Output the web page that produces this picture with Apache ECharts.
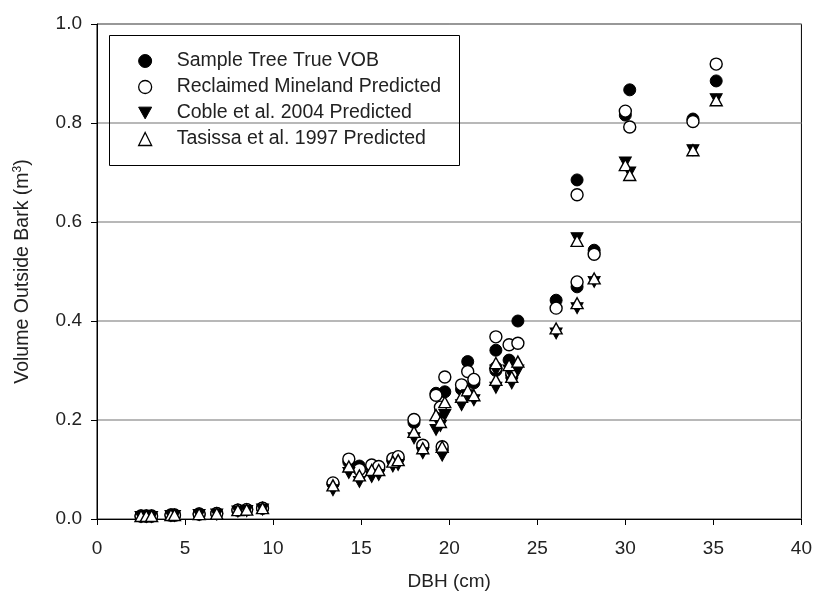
<!DOCTYPE html>
<html><head><meta charset="utf-8">
<script src="https://cdn.jsdelivr.net/npm/echarts@6/dist/echarts.min.js"></script>
<style>html,body{margin:0;padding:0;background:#fff}#c{width:815px;height:600px}</style>
</head><body><div id="c"></div>
<script>
const dbh = [2.5,2.8,3.1,4.2,4.4,5.8,6.8,8.0,8.5,9.4,
  13.4,14.3,14.9,15.6,16.0,16.8,17.1,18.0,18.5,19.25,19.5,19.6,19.75,
  20.7,21.05,21.4,22.65,22.65,23.4,23.55,23.9,26.07,27.26,27.26,28.23,30.0,30.25,33.84,35.16];
const trueVOB = [0.006,0.006,0.006,0.008,0.008,0.010,0.011,0.018,0.019,0.022,
  0.072,0.115,0.107,0.103,0.102,0.118,0.122,0.195,0.145,0.254,0.215,0.140,0.257,
  0.262,0.318,0.275,0.341,0.300,0.321,0.290,0.400,0.442,0.685,0.469,0.543,0.816,0.867,0.808,0.885];
const reclaimed = [0.006,0.006,0.006,0.008,0.008,0.010,0.011,0.018,0.019,0.022,
  0.073,0.121,0.100,0.109,0.106,0.122,0.126,0.201,0.149,0.250,0.226,0.146,0.287,
  0.271,0.298,0.282,0.368,0.305,0.352,0.295,0.355,0.426,0.655,0.479,0.535,0.824,0.792,0.803,0.919];
const coble = [0.004,0.004,0.004,0.006,0.006,0.008,0.009,0.015,0.016,0.019,
  0.058,0.093,0.075,0.085,0.089,0.106,0.109,0.163,0.133,0.180,0.188,0.128,0.210,
  0.230,0.250,0.240,0.300,0.265,0.300,0.274,0.300,0.375,0.567,0.426,0.479,0.720,0.700,0.745,0.848];
const tasissa = [0.006,0.006,0.006,0.008,0.008,0.010,0.011,0.018,0.019,0.022,
  0.068,0.106,0.088,0.099,0.099,0.116,0.119,0.176,0.143,0.210,0.196,0.146,0.236,
  0.247,0.260,0.250,0.315,0.281,0.311,0.287,0.318,0.385,0.562,0.436,0.486,0.715,0.695,0.745,0.846];
const xTicks = [0,5,10,15,20,25,30,35,40];
const yTicks = [0.0,0.2,0.4,0.6,0.8,1.0];
const names = ['Sample Tree True VOB','Reclaimed Mineland Predicted','Coble et al. 2004 Predicted','Tasissa et al. 1997 Predicted'];

const pts = ys => dbh.map((x,i)=>[x, ys[i]]);
const downTri = 'path://M0,0 L10,0 L5,9 Z';
const chart = echarts.init(document.getElementById('c'), null, {renderer:'canvas'});
const font = 'Liberation Sans, Arial, sans-serif';
chart.setOption({
  animation:false,
  backgroundColor:'#fff',
  grid:{left:97,right:9,top:24,bottom:81,show:true,borderColor:'#000',borderWidth:1,backgroundColor:'transparent'},
  xAxis:{type:'value',min:xTicks[0],max:xTicks[xTicks.length-1],interval:5,
    name:'DBH (cm)',nameLocation:'middle',nameGap:53,
    nameTextStyle:{fontSize:19,color:'#222',fontFamily:font},
    axisLine:{lineStyle:{color:'#000',width:1}},
    axisTick:{show:true,inside:false,length:6,lineStyle:{color:'#000'}},
    axisLabel:{fontSize:19,color:'#222',fontFamily:font,margin:20},
    splitLine:{show:false}},
  yAxis:{type:'value',min:yTicks[0],max:yTicks[yTicks.length-1],interval:0.2,
    name:'Volume Outside Bark (m{sup|3})',nameLocation:'middle',nameGap:64,nameRotate:90,
    nameTextStyle:{fontSize:19.5,color:'#222',fontFamily:font,rich:{sup:{fontSize:12,verticalAlign:'top',color:'#222',fontFamily:font,padding:[0,0,9,0]}}},
    axisLine:{lineStyle:{color:'#000',width:1}},
    axisTick:{show:true,inside:false,length:6,lineStyle:{color:'#000'}},
    axisLabel:{fontSize:19,color:'#222',fontFamily:font,margin:15,formatter:v=>v.toFixed(1)},
    splitLine:{show:true,lineStyle:{color:'#a0a0a0',width:1.5}}},
  legend:{orient:'vertical',left:138,top:51,padding:0,itemGap:6,itemWidth:13,itemHeight:13,
    textStyle:{fontSize:19.5,color:'#222',fontFamily:font,padding:[0,0,0,20],lineHeight:18},
    data:[
      {name:names[0],icon:'circle',itemStyle:{color:'#000',borderColor:'#000',borderWidth:1}},
      {name:names[1],icon:'circle',itemStyle:{color:'#fff',borderColor:'#000',borderWidth:1.3}},
      {name:names[2],icon:downTri,itemStyle:{color:'#000',borderColor:'#000',borderWidth:1}},
      {name:names[3],icon:'triangle',itemStyle:{color:'#fff',borderColor:'#000',borderWidth:1.3}}
    ]},
  graphic:[{type:'rect',left:107,top:33,shape:{width:350,height:130},style:{fill:'none',stroke:'#000',lineWidth:1},z:100}],
  series:[
    {name:names[0],type:'scatter',data:pts(trueVOB),symbol:'circle',symbolSize:12,
      itemStyle:{color:'#000',borderColor:'#000',borderWidth:1,opacity:1},z:2},
    {name:names[1],type:'scatter',data:pts(reclaimed),symbol:'circle',symbolSize:12,
      itemStyle:{color:'#fff',borderColor:'#000',borderWidth:1.4,opacity:1},z:3},
    {name:names[2],type:'scatter',data:pts(coble),symbol:'triangle',symbolRotate:180,symbolSize:[12,11],
      itemStyle:{color:'#000',borderColor:'#000',borderWidth:1,opacity:1},z:4},
    {name:names[3],type:'scatter',data:pts(tasissa),symbol:'triangle',symbolSize:[12,11],
      itemStyle:{color:'#fff',borderColor:'#000',borderWidth:1.4,opacity:1},z:5}
  ]
});
</script></body></html>
